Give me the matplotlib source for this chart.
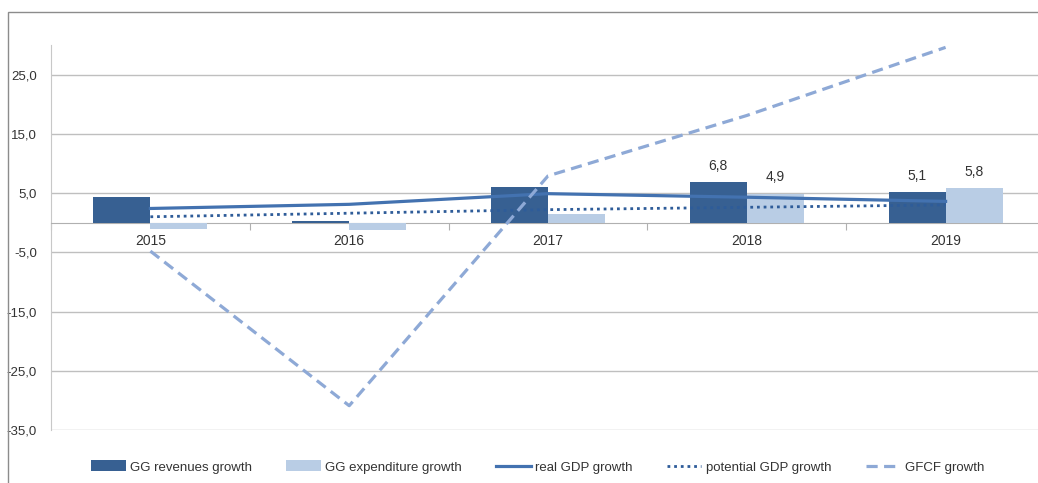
import matplotlib.pyplot as plt
import numpy as np
from matplotlib.patches import Rectangle

years = ["2015", "2016", "2017", "2018", "2019"]
gg_revenues = [4.4, 0.3, 6.1, 6.8, 5.1]
gg_expenditure = [-1.1, -1.3, 1.5, 4.9, 5.8]
real_gdp = [2.4, 3.1, 4.9, 4.3, 3.6]
potential_gdp = [1.0, 1.6, 2.2, 2.6, 3.0]
gfcf = [-4.8, -30.9, 7.9, 18.1, 29.6]
yticks = [-35, -25, -15, -5, 5, 15, 25]

plt.rcParams['font.family'] = ['Liberation Sans Narrow', 'Liberation Sans', 'DejaVu Sans']

fig = plt.figure(figsize=(10.38, 4.83), dpi=100)
ax = fig.add_axes([51 / 1038, 1 - 430 / 483, 994 / 1038, 385 / 483])

# outer chart frame
fig.patches.append(Rectangle((8 / 1038, -0.1), 1.1, 1.1 - 12 / 483,
                             transform=fig.transFigure, fill=False,
                             edgecolor='#8c8c8c', lw=1.0, zorder=0))

x = np.arange(len(years))
w = 0.287
dark = '#376092'
light = '#b9cde5'
txt = '#333333'

b1 = ax.bar(x - w / 2, gg_revenues, w, color=dark, label='GG revenues growth', zorder=3)
b2 = ax.bar(x + w / 2, gg_expenditure, w, color=light, label='GG expenditure growth', zorder=3)
l1, = ax.plot(x, real_gdp, color='#4372b0', lw=2.3, label='real GDP growth', zorder=4)
l2, = ax.plot(x, potential_gdp, color='#2e5c99', lw=2.0, ls=(0, (1, 1.4)), label='potential GDP growth', zorder=4)
l3, = ax.plot(x, gfcf, color='#8ea9d6', lw=2.3, ls=(0, (3.5, 2)), label='GFCF growth', zorder=4)

for i in [3, 4]:
    ax.annotate(f"{gg_revenues[i]:.1f}".replace('.', ','), (x[i] - w / 2, gg_revenues[i]),
                xytext=(0, 7), textcoords='offset points', ha='center', va='bottom',
                fontsize=10, color=txt)
    ax.annotate(f"{gg_expenditure[i]:.1f}".replace('.', ','), (x[i] + w / 2, gg_expenditure[i]),
                xytext=(0, 7), textcoords='offset points', ha='center', va='bottom',
                fontsize=10, color=txt)

ax.set_xlim(-0.5, len(years) - 0.5)
ax.set_ylim(-35, 30)
ax.set_yticks(yticks)
ax.set_yticklabels([f"{v:.1f}".replace('.', ',') for v in yticks], fontsize=9.5, color=txt)
ax.tick_params(axis='y', length=0, pad=10)
ax.yaxis.grid(True, color='#bfbfbf', lw=1.0, zorder=0)

ax.spines['bottom'].set_position(('data', 0))
ax.spines['bottom'].set_color('#b0b0b0')
ax.spines['left'].set_color('#c8c8c8')
ax.spines['top'].set_visible(False)
ax.spines['right'].set_visible(False)

ax.set_xticks(np.arange(-0.5, len(years), 1.0))
ax.set_xticklabels([])
ax.tick_params(axis='x', which='major', length=5, color='#b0b0b0', direction='out')
ax.set_xticks(x, minor=True)
ax.set_xticklabels(years, minor=True, fontsize=10, color=txt)
ax.tick_params(axis='x', which='minor', length=0, pad=8)

fig.legend(handles=[b1, b2, l1, l2, l3], loc='center', bbox_to_anchor=(0.518, 1 - 467 / 483),
           ncol=5, frameon=False, prop={'size': 9.5}, labelcolor=txt,
           handlelength=2.6, handleheight=0.9, columnspacing=2.6, handletextpad=0.35)

fig.savefig('out.png', dpi=100)
